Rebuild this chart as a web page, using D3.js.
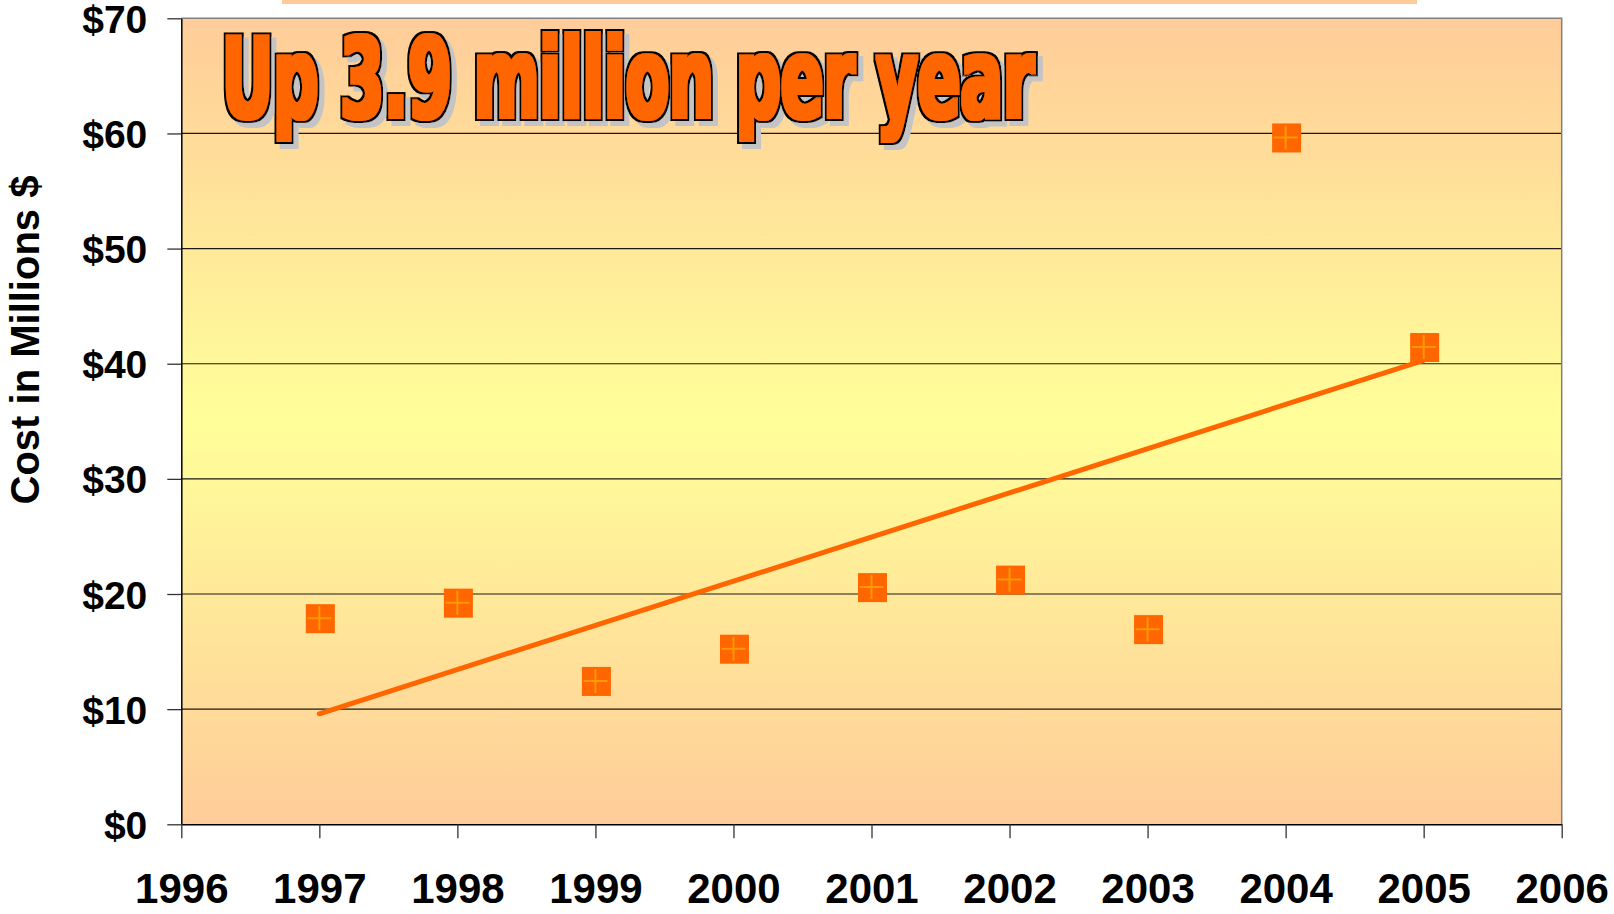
<!DOCTYPE html>
<html><head><meta charset="utf-8">
<script src="https://cdn.jsdelivr.net/npm/d3@7"></script>
<style>body{margin:0;background:#fff}svg{display:block}</style>
</head><body><svg id="c" width="1614" height="914"></svg>
<script>
// ---- data ----
const years = [1997, 1998, 1999, 2000, 2001, 2002, 2003, 2004, 2005];
const costs = [17.9, 19.25, 12.45, 15.25, 20.6, 21.25, 16.95, 59.65, 41.45];
const trendYears = [1997, 2005];
const trendValues = [9.6, 40.3];
const xTicks = [1996, 1997, 1998, 1999, 2000, 2001, 2002, 2003, 2004, 2005, 2006];
const yTicks = [0, 10, 20, 30, 40, 50, 60, 70];
const titleText = "Up 3.9 million per year";
const yAxisTitle = "Cost in Millions $";

// ---- layout ----
const L = 181.3, R = 1561.7, T = 18.3, B = 824.3;
const svg = d3.select("#c");
const x = d3.scaleLinear().domain([1996, 2006]).range([L, R]);
const y = d3.scaleLinear().domain([0, 70]).range([B, T]);

const defs = svg.append("defs");
const grad = defs.append("linearGradient").attr("id", "bg")
  .attr("x1", 0).attr("y1", 0).attr("x2", 0).attr("y2", 1);
grad.append("stop").attr("offset", "0%").attr("stop-color", "#FFCC99");
grad.append("stop").attr("offset", "50%").attr("stop-color", "#FFFF99");
grad.append("stop").attr("offset", "100%").attr("stop-color", "#FFCC99");

// title effect: thickened orange glyphs, black outline, grey drop shadow
const f = defs.append("filter").attr("id", "wordart")
  .attr("x", "-5%").attr("y", "-30%").attr("width", "115%").attr("height", "160%");
f.append("feMorphology").attr("in", "SourceAlpha").attr("operator", "dilate").attr("radius", 1.6).attr("result", "thick");
f.append("feMorphology").attr("in", "SourceAlpha").attr("operator", "dilate").attr("radius", 3.6).attr("result", "outer");
f.append("feFlood").attr("flood-color", "#FF6600").attr("result", "cOr");
f.append("feComposite").attr("in", "cOr").attr("in2", "thick").attr("operator", "in").attr("result", "orange");
f.append("feFlood").attr("flood-color", "#000000").attr("result", "cBk");
f.append("feComposite").attr("in", "cBk").attr("in2", "outer").attr("operator", "in").attr("result", "black");
f.append("feOffset").attr("in", "outer").attr("dx", 5).attr("dy", 5).attr("result", "outerOff");
f.append("feFlood").attr("flood-color", "#C4C4C4").attr("result", "cGr");
f.append("feComposite").attr("in", "cGr").attr("in2", "outerOff").attr("operator", "in").attr("result", "shadow");
const mg = f.append("feMerge");
mg.append("feMergeNode").attr("in", "shadow");
mg.append("feMergeNode").attr("in", "black");
mg.append("feMergeNode").attr("in", "orange");

// top strip (slide element)
svg.append("rect").attr("x", 282).attr("y", 0).attr("width", 1135).attr("height", 4).attr("fill", "#FFCC99");

// plot background
svg.append("rect").attr("x", L).attr("y", T).attr("width", R - L).attr("height", B - T)
  .attr("fill", "url(#bg)");

// gridlines
svg.append("g").selectAll("line").data(yTicks.filter(d => d > 0 && d < 70)).join("line")
  .attr("x1", L).attr("x2", R).attr("y1", d => y(d)).attr("y2", d => y(d))
  .attr("stroke", "#1a1a1a").attr("stroke-width", 1.2);

// border top & right
svg.append("path").attr("d", `M${L},${T}H${R}V${B}`).attr("fill", "none")
  .attr("stroke", "#808080").attr("stroke-width", 1.5);

// axes
const yAxis = svg.append("g").attr("transform", `translate(${L},0)`)
  .call(d3.axisLeft(y).tickValues(yTicks).tickSize(14).tickSizeOuter(0).tickPadding(20)
    .tickFormat(d => "$" + d));
const xAxis = svg.append("g").attr("transform", `translate(0,${B})`)
  .call(d3.axisBottom(x).tickValues(xTicks).tickSize(14).tickSizeOuter(0).tickFormat(d3.format("d")));

[yAxis, xAxis].forEach(g => {
  g.select(".domain").attr("stroke", "#000").attr("stroke-width", 1.5);
  g.selectAll(".tick line").attr("stroke", "#333").attr("stroke-width", 1.3);
  g.selectAll("text").attr("fill", "#000")
    .style("font-family", "Liberation Sans, Arial, sans-serif").style("font-weight", "bold");
});
yAxis.selectAll("text").style("font-size", "39px").attr("dy", "0.36em");
xAxis.selectAll("text").style("font-size", "42px").attr("y", 79).attr("dy", 0);

// y-axis title
svg.append("text").attr("transform", "translate(39,340) rotate(-90)")
  .attr("text-anchor", "middle")
  .style("font-family", "Liberation Sans, Arial, sans-serif").style("font-weight", "bold")
  .style("font-size", "40px").text(yAxisTitle);

// trend line
svg.append("path")
  .datum(trendYears.map((yr, i) => [yr, trendValues[i]]))
  .attr("d", d3.line().x(d => x(d[0])).y(d => y(d[1])))
  .attr("fill", "none").attr("stroke", "#FF6600").attr("stroke-width", 5)
  .attr("stroke-linecap", "round");

// markers
const pts = years.map((yr, i) => ({ yr, v: costs[i] }));
const m = svg.append("g").selectAll("g").data(pts).join("g")
  .attr("transform", d => `translate(${x(d.yr)},${y(d.v)})`);
m.append("rect").attr("x", -13.5).attr("y", -14).attr("width", 29).attr("height", 29).attr("fill", "#FF6600");
m.append("path").attr("d", "M-12,0H12M0,-12V12").attr("stroke", "#FF9900").attr("stroke-width", 2);

// title
svg.append("text").attr("x", 222).attr("y", 117)
  .attr("textLength", 812).attr("lengthAdjust", "spacingAndGlyphs")
  .style("font-family", "DejaVu Sans, Liberation Sans, sans-serif").style("font-weight", "bold")
  .style("font-stretch", "condensed").style("font-size", "110px")
  .attr("fill", "#FF6600").attr("filter", "url(#wordart)")
  .text(titleText);
</script></body></html>
